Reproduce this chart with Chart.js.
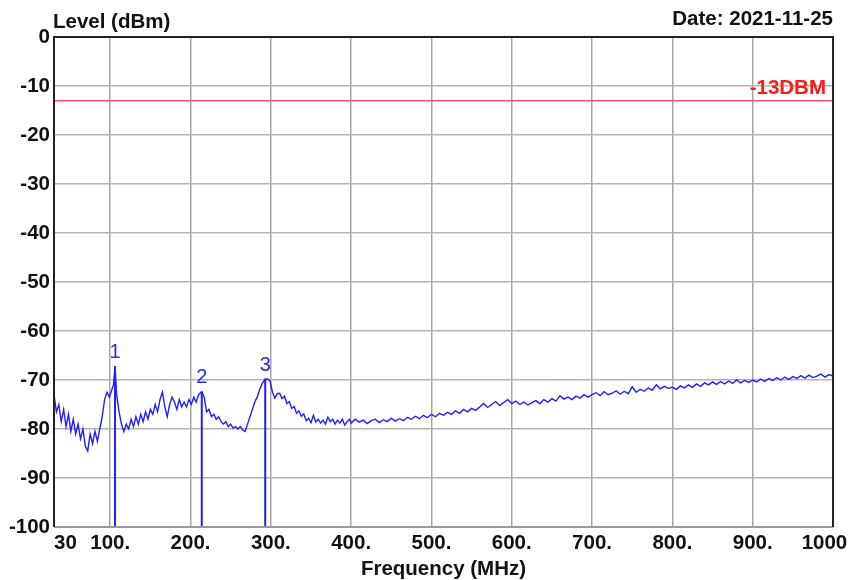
<!DOCTYPE html>
<html><head><meta charset="utf-8">
<script src="https://cdn.jsdelivr.net/npm/chart.js@4.4.1/dist/chart.umd.min.js"></script>
<style>html,body{margin:0;padding:0;background:#fff;}#wrap{width:851px;height:580px;}</style>
</head><body><div id="wrap"><canvas id="c" width="851" height="580"></canvas></div>
<script>
const freqMHz = [
30,33,36,39,42,45,48,51,54,57,
60,63,66,69,72,75,78,81,84,87,
90,93,96,99,102,104,106,108,111,114,
117,120,123,126,129,132,135,138,141,144,
147,150,153,156,159,162,165,168,171,174,
177,180,183,186,189,192,195,198,201,204,
207,210,214,217,220,223,226,229,232,235,
238,241,244,247,250,253,256,259,262,265,
268,271,274,277,280,283,286,289,293,296,
299,302,305,308,311,314,317,320,323,326,
329,332,335,338,341,344,347,350,353,356,
359,362,365,368,371,374,377,380,383,386,
389,392,395,398,
400,405,410,415,420,425,430,435,440,445,
450,455,460,465,470,475,480,485,490,495,
500,505,510,515,520,525,530,535,540,545,
550,555,560,565,570,575,580,585,590,595,
600,605,610,615,620,625,630,635,640,645,
650,655,660,665,670,675,680,685,690,695,
700,705,710,715,720,725,730,735,740,745,
750,755,760,765,770,775,780,785,790,795,
800,805,810,815,820,825,830,835,840,845,
850,855,860,865,870,875,880,885,890,895,
900,905,910,915,920,925,930,935,940,945,
950,955,960,965,970,975,980,985,990,995,
1000];
const levelDbm = [
-73.0,-76.5,-75.0,-78.5,-76.0,-79.5,-77.0,-80.5,-78.0,-81.0,
-79.0,-82.0,-80.0,-83.5,-84.5,-81.0,-83.0,-80.5,-82.5,-80.0,
-77.5,-74.0,-72.5,-73.5,-72.0,-71.0,-67.2,-73.0,-76.5,-79.0,
-80.5,-79.0,-80.0,-78.0,-79.5,-77.5,-79.0,-77.0,-78.5,-76.5,
-78.0,-76.0,-77.0,-75.0,-76.5,-74.0,-72.5,-75.5,-77.5,-75.0,
-73.5,-74.5,-76.0,-74.0,-75.5,-74.5,-75.5,-74.0,-75.0,-73.5,
-74.5,-73.0,-72.4,-73.5,-76.5,-76.0,-77.5,-77.0,-78.0,-77.5,
-78.5,-79.0,-78.5,-79.5,-79.0,-79.8,-79.5,-80.0,-79.5,-80.2,
-80.5,-79.0,-77.5,-76.0,-74.5,-73.5,-72.0,-70.8,-69.8,-69.8,
-70.2,-72.5,-73.7,-72.8,-72.7,-73.8,-73.3,-74.8,-74.4,-75.8,
-75.4,-76.8,-76.3,-77.4,-76.9,-78.3,-77.8,-78.7,-77.2,-78.6,
-78.0,-78.8,-78.2,-79.0,-77.6,-78.5,-78.0,-79.0,-78.2,-78.8,
-78.0,-79.2,-78.5,-78.0,
-78.8,-78.0,-78.6,-78.2,-78.9,-78.3,-78.0,-78.7,-78.1,-78.5,
-77.8,-78.4,-77.9,-78.3,-77.6,-78.0,-77.4,-77.9,-77.2,-77.7,
-77.0,-77.5,-76.8,-77.2,-76.6,-77.0,-76.3,-76.8,-76.0,-76.5,
-75.8,-76.2,-75.5,-74.8,-75.6,-75.0,-74.4,-75.2,-74.6,-74.0,
-74.8,-74.3,-75.0,-74.5,-75.1,-74.6,-74.2,-74.8,-74.0,-74.5,
-73.8,-74.3,-73.2,-73.9,-73.5,-74.0,-73.3,-73.7,-73.0,-73.5,
-73.0,-72.6,-73.2,-72.4,-73.0,-72.7,-72.2,-72.9,-72.3,-72.8,
-71.4,-72.5,-71.9,-72.3,-71.6,-72.1,-71.0,-71.8,-71.3,-71.7,
-71.5,-71.9,-71.2,-71.6,-71.0,-71.5,-70.8,-71.3,-70.6,-71.0,
-70.4,-70.9,-70.3,-70.8,-70.2,-70.7,-70.0,-70.6,-70.1,-70.5,
-70.0,-70.4,-69.8,-70.3,-69.7,-70.1,-69.5,-70.0,-69.4,-69.9,
-69.3,-69.7,-69.1,-69.6,-69.0,-69.5,-69.2,-68.8,-69.4,-68.9,
-69.2];
const xTickValues = [30,100,200,300,400,500,600,700,800,900,1000];
const xTickLabels = ['    30','100.','200.','300.','400.','500.','600.','700.','800.','900.','1000   '];
const yTickValues = [0,-10,-20,-30,-40,-50,-60,-70,-80,-90,-100];
const limitLevel = -13;
const limitLabel = '-13DBM';
const markerNames = ['1','2','3'];
const markerFreq = [106,214,293];
const markerLevel = [-67.2,-72.4,-69.8];
const yTitle = 'Level (dBm)';
const xTitle = 'Frequency (MHz)';
const dateText = 'Date: 2021-11-25';

const FONT = 'Liberation Sans, Arial, sans-serif';
const FS = 20.5;
const BLUE = '#1f1fff';

const datasets = [
  {label:'trace', data: freqMHz.map((f,i)=>({x:f,y:levelDbm[i]})), borderColor:BLUE, borderWidth:1.4, pointRadius:0, tension:0, order:2},
  {label:'limit', data:[{x:xTickValues[0],y:limitLevel},{x:xTickValues[xTickValues.length-1],y:limitLevel}], borderColor:'#ff4f7b', borderWidth:1.6, pointRadius:0, order:1}
];
markerFreq.forEach((f,i)=>{
  datasets.push({label:'marker'+markerNames[i], data:[{x:f,y:markerLevel[i]},{x:f,y:yTickValues[yTickValues.length-1]}], borderColor:BLUE, borderWidth:2, pointRadius:0, order:0});
});

const decor = {
  id:'decor',
  afterDatasetsDraw(chart){
    const {ctx, chartArea:a, scales:{x,y}} = chart;
    ctx.save();
    ctx.lineWidth = 2;
    ctx.strokeStyle = '#9a9a9a';
    ctx.beginPath(); ctx.moveTo(a.left, a.bottom); ctx.lineTo(a.right, a.bottom); ctx.stroke();
    ctx.strokeStyle = '#222';
    ctx.beginPath(); ctx.moveTo(a.left, a.bottom); ctx.lineTo(a.left, a.top); ctx.lineTo(a.right, a.top); ctx.lineTo(a.right, a.bottom); ctx.stroke();
    ctx.fillStyle = '#2a2ae8';
    ctx.font = '20px ' + FONT;
    ctx.textAlign = 'center'; ctx.textBaseline = 'middle';
    markerNames.forEach((n,i)=>{
      ctx.fillText(n, x.getPixelForValue(markerFreq[i]), y.getPixelForValue(markerLevel[i]) - 14);
    });
    ctx.fillStyle = '#ff1a1a';
    ctx.font = 'bold ' + FS + 'px ' + FONT;
    ctx.textAlign = 'right';
    ctx.fillText(limitLabel, a.right - 7, y.getPixelForValue(limitLevel) - 12);
    ctx.fillStyle = '#111';
    ctx.textAlign = 'left';
    ctx.fillText(yTitle, a.left - 1, 22);
    ctx.textAlign = 'right';
    ctx.fillText(dateText, a.right, 19);
    ctx.restore();
  }
};

new Chart(document.getElementById('c'), {
  type:'line',
  data:{datasets},
  options:{
    responsive:false, animation:false, devicePixelRatio:1,
    layout:{padding:{top:37,right:18,left:0,bottom:0}},
    plugins:{legend:{display:false}, tooltip:{enabled:false}, title:{display:false}},
    scales:{
      x:{type:'linear', min:30, max:1000,
        afterBuildTicks(s){ s.ticks = xTickValues.map(v=>({value:v})); },
        afterFit(s){ s.height = 53; s.paddingLeft = 0; s.paddingRight = 0; },
        ticks:{autoSkip:false, maxRotation:0, padding:4, color:'#111', font:{family:FONT, size:FS, weight:'bold'},
          callback:(v)=>{ const i = xTickValues.indexOf(v); return i>=0 ? xTickLabels[i] : ''; }},
        grid:{color:'#a6a6a6', lineWidth:1.5, drawTicks:false},
        border:{display:false},
        title:{display:true, text:xTitle, color:'#111', padding:{top:0,bottom:0}, font:{family:FONT, size:FS, weight:'bold', lineHeight:1.0}}
      },
      y:{type:'linear', min:-100, max:0,
        afterBuildTicks(s){ s.ticks = yTickValues.map(v=>({value:v})); },
        afterFit(s){ s.width = 54; },
        ticks:{padding:4, color:'#111', font:{family:FONT, size:FS, weight:'bold'}},
        grid:{color:'#b4b4b4', lineWidth:1.5, drawTicks:false},
        border:{display:false}
      }
    }
  },
  plugins:[decor]
});
</script></body></html>
